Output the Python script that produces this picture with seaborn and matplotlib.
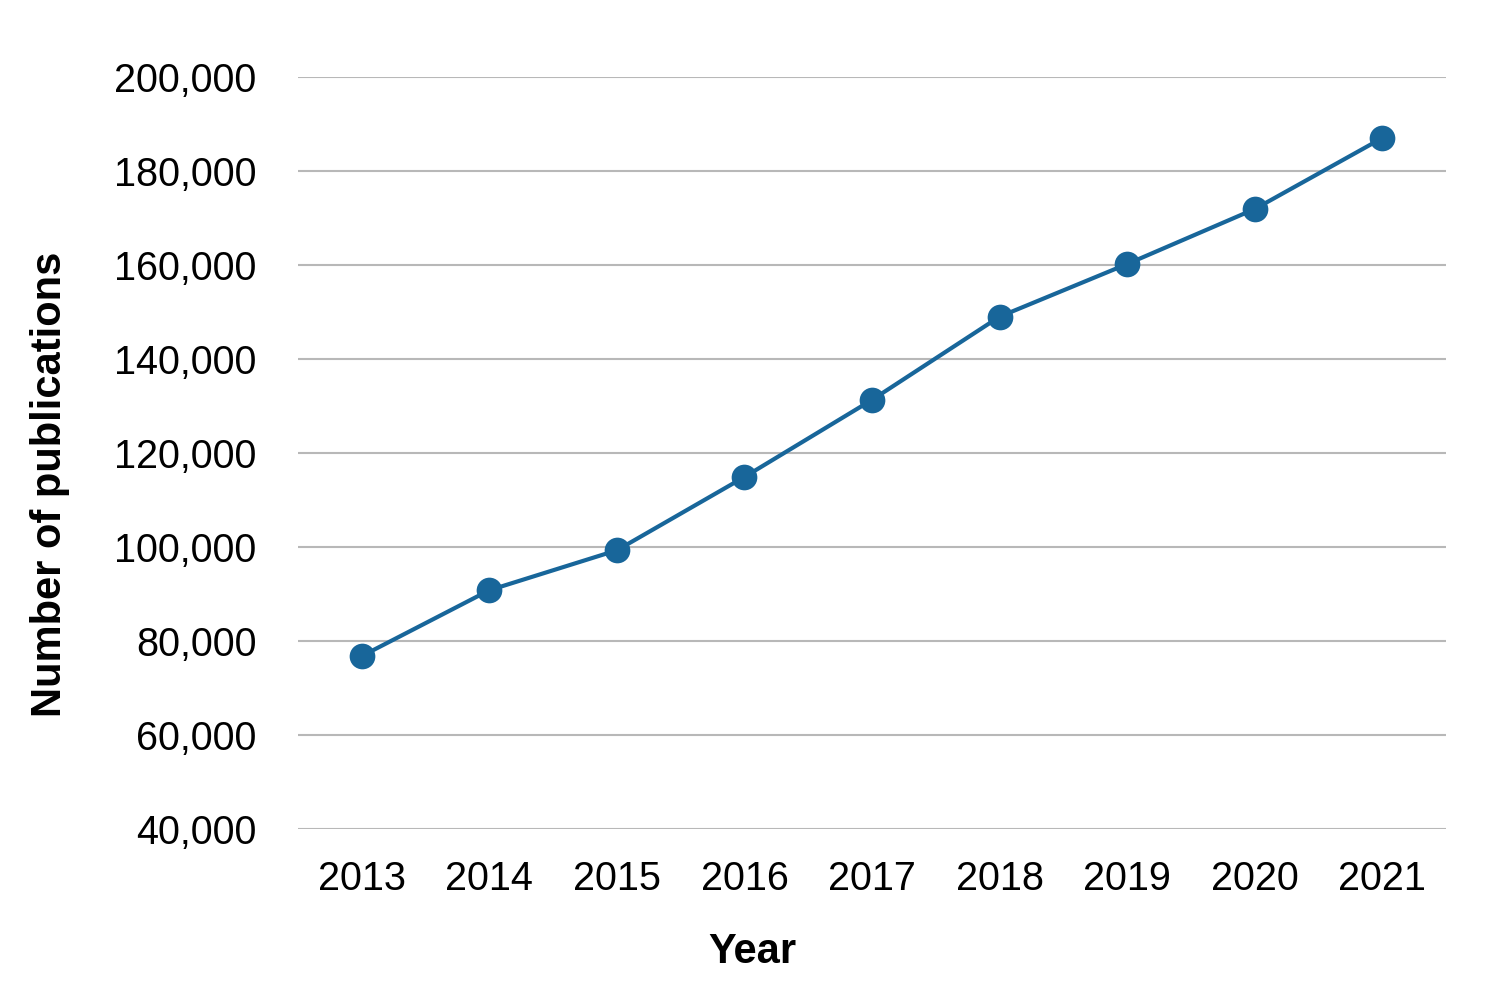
import matplotlib
matplotlib.use("Agg")
import matplotlib.pyplot as plt
import matplotlib.ticker as mticker
import seaborn as sns
import pandas as pd

years = [2013, 2014, 2015, 2016, 2017, 2018, 2019, 2020, 2021]
publications = [76800, 90800, 99300, 114900, 131300, 149000, 160200, 171900, 187000]
y_ticks = [40000, 60000, 80000, 100000, 120000, 140000, 160000, 180000, 200000]

sns.set_theme(style="white")
plt.rcParams['font.family'] = ['Liberation Sans', 'DejaVu Sans']

df = pd.DataFrame({"Year": years, "Publications": publications})

fig = plt.figure(figsize=(15.01, 10), dpi=100)
ax = fig.add_axes([298/1501, 1-829/1000, (1446-298)/1501, (829-77)/1000])

line_color = "#18669a"
sns.lineplot(data=df, x="Year", y="Publications", ax=ax, color=line_color,
             linewidth=3.0, marker="o", markersize=18.5, markeredgewidth=0)

ax.set_xlim(years[0]-0.5, years[-1]+0.5)
ax.set_ylim(40000, 200000)
ax.set_xticks(years)
ax.set_xticklabels([str(y) for y in years])
ax.set_yticks(y_ticks)
ax.yaxis.set_major_formatter(mticker.FuncFormatter(lambda v, p: f"{int(v):,}"))

ax.grid(axis="y", color="#b8b8b8", linewidth=1.5)
ax.grid(axis="x", visible=False)
ax.set_axisbelow(True)
for s in ax.spines.values():
    s.set_visible(False)
ax.tick_params(axis="both", length=0, labelsize=28.5, colors="black")
ax.tick_params(axis="y", pad=30)
ax.tick_params(axis="x", pad=22)

ax.set_xlabel("Year", fontsize=30, fontweight="bold", color="black")
ax.set_ylabel("Number of publications", fontsize=30, fontweight="bold", color="black")
ax.xaxis.set_label_coords((752-298)/1148, -(952-829)/752)
ax.yaxis.set_label_coords(-(298-50)/1148, (829-484)/752)
ax.xaxis.label.set_va("center")
ax.yaxis.label.set_va("center")

fig.savefig("out.png", dpi=100)
